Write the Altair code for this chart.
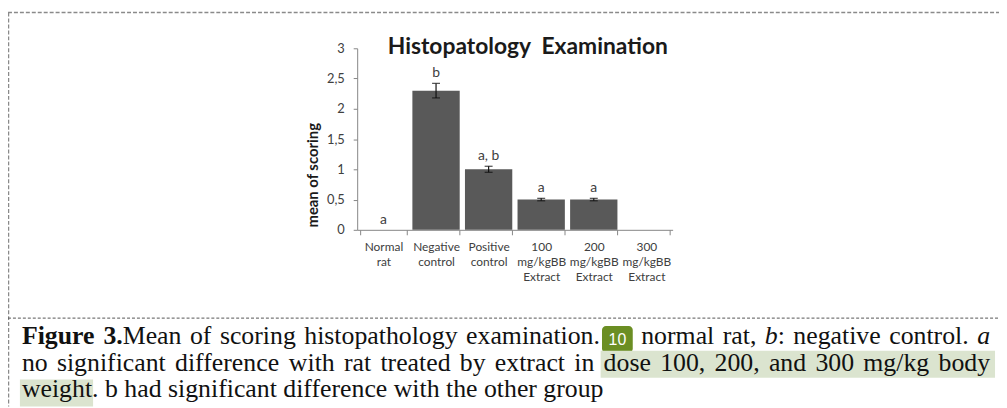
import altair as alt
import pandas as pd

# ---- data ----
categories = ["Normal\nrat", "Negative\ncontrol", "Positive\ncontrol",
              "100\nmg/kgBB\nExtract", "200\nmg/kgBB\nExtract", "300\nmg/kgBB\nExtract"]
means = [0.0, 2.3, 1.0, 0.5, 0.5, 0.0]
errors = [0.0, 0.12, 0.05, 0.02, 0.02, 0.0]
letters = ["a", "b", "a, b", "a", "a", ""]
y_ticks = [0, 0.5, 1, 1.5, 2, 2.5, 3]

df = pd.DataFrame({"cat": categories, "mean": means, "err": errors, "letter": letters})
df["lo"] = df["mean"] - df["err"]
df["hi"] = df["mean"] + df["err"]

# ---- layout (page pixels) ----
OX, OY = 360, 47          # plot origin on the page
W, H = 318, 183
PAD = {"left": OX - 8, "top": OY - 8, "right": 999 - (OX - 8) - W, "bottom": 400 - (OY - 8) - H}


def px(x):
    return x - OX


def py(y):
    return y - OY


one = pd.DataFrame({"k": [0]})
SERIF = "Liberation Serif"
SANS = "Lato"
CAP = 26

YSCALE = alt.Scale(domain=[0, 3], nice=False)
YAXIS = alt.Axis(values=y_ticks, grid=False, title=None,
                 labelExpr="replace(format(datum.value, '.1~f'), '.', ',')",
                 labelFont=SANS, labelFontSize=13, labelColor="#404040",
                 tickSize=4, tickColor="#868686", domainColor="#868686",
                 labelPadding=9)
XAXIS = alt.Axis(labelExpr="split(datum.label, '\\n')", labelAngle=0, title=None,
                 labelFont=SANS, labelFontSize=12, labelColor="#404040",
                 labelLineHeight=15, labelPadding=7, tickBand="extent",
                 tickSize=5, tickColor="#868686", domainColor="#868686",
                 labelBaseline="top")
XSCALE = alt.Scale(paddingInner=0.1, paddingOuter=0.05)


def xq():
    return alt.X("cat:N", sort=categories, scale=XSCALE, axis=XAXIS, title=None)


def yq(field):
    return alt.Y(field + ":Q", scale=YSCALE, axis=YAXIS, title=None)


base = alt.Chart(df)
bars = base.mark_bar(color="#595959").encode(x=xq(), y=yq("mean"))
err_df = base.transform_filter("datum.err > 0")
err_rule = err_df.mark_rule(color="#111111", strokeWidth=1.2).encode(
    x=xq(), y=yq("lo"), y2="hi:Q")
err_lo = err_df.mark_tick(color="#111111", thickness=1.3, size=8).encode(x=xq(), y=yq("lo"))
err_hi = err_df.mark_tick(color="#111111", thickness=1.3, size=8).encode(x=xq(), y=yq("hi"))
lbls = base.mark_text(font=SANS, fontSize=14, color="#404040", baseline="bottom", dy=-3).encode(
    x=xq(), y=yq("hi"), text="letter:N")


def txt(s, x, y, size=CAP, weight="normal", style="normal", font=SERIF, color="#111111",
        align="left", baseline="alphabetic", angle=0):
    return alt.Chart(one).mark_text(
        text=s, font=font, fontSize=size, fontWeight=weight, fontStyle=style,
        color=color, align=align, baseline=baseline, angle=angle
    ).encode(x=alt.value(px(x)), y=alt.value(py(y)))


def box(x1, x2, y1, y2, fill, radius=0):
    return alt.Chart(one).mark_rect(fill=fill, cornerRadius=radius).encode(
        x=alt.value(px(x1)), x2=alt.value(px(x2)), y=alt.value(py(y1)), y2=alt.value(py(y2)))


def rule(x1, x2, y1, y2, color, width, dash):
    return alt.Chart(one).mark_rule(color=color, strokeWidth=width, strokeDash=dash).encode(
        x=alt.value(px(x1)), x2=alt.value(px(x2)), y=alt.value(py(y1)), y2=alt.value(py(y2)))


# Times (Liberation Serif) advance widths, per 1000 em, for justified caption layout
REG = dict(zip("abcdefghijklmnopqrstuvwxyz", [444, 500, 444, 500, 444, 333, 500, 500, 278, 278, 500, 278, 778,
                                                500, 500, 500, 500, 333, 389, 278, 500, 500, 722, 500, 500, 444]))
REG.update({c: 500 for c in "0123456789"})
REG.update({" ": 250, ",": 250, ".": 250, ":": 278, "/": 278, "M": 889})
BOLD = {"F": 611, "i": 278, "g": 500, "u": 556, "r": 444, "e": 444, "3": 500, ".": 250}
ITAL = {"a": 500, "b": 500}
SP = 250 * CAP / 1000


def width(s, style):
    table = {"r": REG, "b": BOLD, "i": ITAL}[style]
    return sum(table.get(c, 500) for c in s) * CAP / 1000


def justify(tokens, x0, x1):
    """tokens: (text, style, gap_before); style 'badge' = inline box (text is its width)."""
    ws = [t[0] if t[1] == "badge" else width(t[0], t[1]) for t in tokens]
    ngap = sum(1 for t in tokens[1:] if t[2] is True)
    fixed = sum(t[2] for t in tokens[1:] if not isinstance(t[2], bool))
    extra = 0 if x1 is None else (x1 - x0 - sum(ws) - fixed - ngap * SP) / max(ngap, 1)
    out, x = [], x0
    for i, (t, w) in enumerate(zip(tokens, ws)):
        if i > 0:
            g = t[2]
            x += (SP + extra) if g is True else (0 if g is False else g)
        out.append((t[0], t[1], x, w))
        x += w
    return out


LEFT, RIGHT = 22, 998
line1 = [("Figure", "b", False), ("3.", "b", True), ("Mean", "r", False), ("of", "r", True),
         ("scoring", "r", True), ("histopathology", "r", True), ("examination.", "r", True),
         (31, "badge", 2), ("normal", "r", True), ("rat,", "r", True), ("b", "i", True),
         (":", "r", False), ("negative", "r", True), ("control.", "r", True), ("a", "i", True)]
line2 = [(w, "r", i > 0) for i, w in enumerate(
    "no significant difference with rat treated by extract in dose 100, 200, and 300 mg/kg body".split())]
line3 = [("weight", "r", False), (". b had significant difference with the other group", "r", False)]

caption = []
marks_text = []
for tokens, base_y, x1 in [(line1, 345, RIGHT), (line2, 372, RIGHT), (line3, 399, None)]:
    for s, st, x, w in justify(tokens, LEFT, x1):
        if st == "badge":
            caption.append(box(x, x + w, 327, 354, "#6b8e23", radius=4))
            marks_text.append(txt("10", x + w / 2, 346.5, size=16, font="Liberation Sans",
                                  color="#ffffff", align="center"))
            continue
        if s == "dose":
            caption.append(box(x - 3, 1003, 352, 379, "#dbe4cf"))
        if s == "weight":
            caption.append(box(x - 2, x + w + 1, 381, 408, "#dbe4cf"))
        marks_text.append(txt(s, x, base_y, weight="bold" if st == "b" else "normal",
                              style="italic" if st == "i" else "normal"))

title = txt("Histopatology\u00a0 Examination", 532, 53, size=23, weight="bold",
            font=SANS, color="#1a1a1a", align="center")
ytitle = txt("mean of scoring", 315, 175, size=15, weight="bold", font=SANS,
             color="#1a1a1a", align="center", baseline="middle", angle=270)

borders = [
    rule(8, 1007, 11, 11, "#8a8a8a", 1.5, [4, 2]),
    rule(8.5, 8.5, 11, 408, "#8a8a8a", 1.5, [4, 2]),
    rule(8, 1007, 319, 319, "#555555", 1, [3, 2]),
]

chart = alt.layer(
    *borders, *caption, *marks_text, bars, err_rule, err_lo, err_hi, lbls, title, ytitle
).properties(
    width=W, height=H, padding=PAD,
    autosize=alt.AutoSizeParams(type="none"),
    background="white",
).configure_view(stroke=None).configure_axis(labelOverlap=False)

chart.save("out.html", embed_options={"renderer": "svg", "actions": False})
